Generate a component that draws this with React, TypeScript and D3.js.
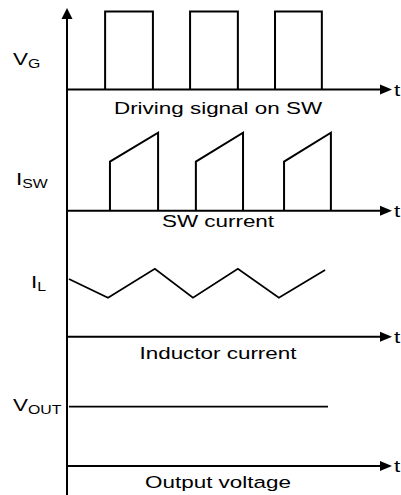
import React from "react";
import * as d3 from "d3";

// time runs 0..100 across every trace
const timeDomain = [0, 100];

// gate drive: on / off instants, logic high = 1
const vgOn = [11.8, 38.1, 64.4];
const vgOff = [26.6, 52.9, 78.9];
const vgHigh = 1.0;

// switch current: ramps from a start value to a peak while the switch is on
const swOn = [13.3, 39.9, 67.2];
const swOff = [28.2, 54.5, 81.7];
const swStart = [0.63, 0.63, 0.63];
const swPeak = [1.0, 1.0, 1.0];

// inductor current triangle
const ilTime = [0.6, 12.7, 27.2, 39.0, 52.9, 65.6, 79.9];
const ilValue = [0.74, 0.5, 0.87, 0.5, 0.87, 0.5, 0.855];

// output voltage (flat)
const voutTime = [0.6, 80.8];
const voutValue = [0.76, 0.76];

const labelMain = ["V", "I", "I", "V"];
const labelSub = ["G", "SW", "L", "OUT"];
const captions = ["Driving signal on SW", "SW current", "Inductor current", "Output voltage"];

const W = 401;
const H = 495;
const axisX = 67;
const baselines = [89.5, 210.7, 336.7, 466];
const labelPos = [
  [13, 65],
  [16, 185],
  [31, 288],
  [13, 411],
];
const captionY = [114, 227, 359, 488];
const captionX = 218;
const stretch = 1.32;
const font = "'Liberation Sans', Arial, sans-serif";

export default function App() {
  const x = d3.scaleLinear().domain(timeDomain).range([axisX, 390]);
  const yFor = (i: number) =>
    d3.scaleLinear().domain([0, 1]).range([baselines[i], baselines[i] - 78]);

  const y0 = yFor(0);
  const vgPath = vgOn
    .map((t, i) => `M${x(t)},${y0(0)}V${y0(vgHigh)}H${x(vgOff[i])}V${y0(0)}`)
    .join("");

  const y1 = yFor(1);
  const swPath = swOn
    .map(
      (t, i) =>
        `M${x(t)},${y1(0)}V${y1(swStart[i])}L${x(swOff[i])},${y1(swPeak[i])}V${y1(0)}`
    )
    .join("");

  const y2 = yFor(2);
  const ilLine = d3
    .line<number>()
    .x((d, i) => x(ilTime[i]))
    .y((d) => y2(d));

  const y3 = yFor(3);
  const voutLine = d3
    .line<number>()
    .x((d, i) => x(voutTime[i]))
    .y((d) => y3(d));

  const xEnd = x(timeDomain[1]);

  return (
    <svg
      width={W}
      height={H}
      style={{ position: "absolute", left: 0, top: 0, background: "#fff" }}
      fontFamily={font}
    >
      {/* vertical axis */}
      <line x1={axisX} x2={axisX} y1={16} y2={H} stroke="#000" strokeWidth={2} />
      <path d={`M${axisX},8L${axisX - 5.5},19L${axisX + 5.5},19Z`} fill="#000" />

      {baselines.map((b, i) => (
        <g key={i}>
          <line x1={axisX} x2={xEnd - 8} y1={b} y2={b} stroke="#000" strokeWidth={2} />
          <path d={`M${xEnd + 2},${b}L${xEnd - 10},${b - 5}L${xEnd - 10},${b + 5}Z`} fill="#000" />
          <text
            transform={`translate(${xEnd + 4},${b + 6}) scale(${stretch},1)`}
            fontSize={17}
          >
            t
          </text>
          <text
            transform={`translate(${labelPos[i][0]},${labelPos[i][1]}) scale(${stretch},1)`}
            fontSize={17}
          >
            {labelMain[i]}
            <tspan fontSize={12} dy={3}>
              {labelSub[i]}
            </tspan>
          </text>
          <text
            transform={`translate(${captionX},${captionY[i]}) scale(${stretch},1)`}
            fontSize={17}
            textAnchor="middle"
          >
            {captions[i]}
          </text>
        </g>
      ))}

      <path d={vgPath} fill="none" stroke="#000" strokeWidth={2} />
      <path d={swPath} fill="none" stroke="#000" strokeWidth={2} />
      <path d={ilLine(ilValue) || ""} fill="none" stroke="#000" strokeWidth={1.8} />
      <path d={voutLine(voutValue) || ""} fill="none" stroke="#000" strokeWidth={1.8} />
    </svg>
  );
}
